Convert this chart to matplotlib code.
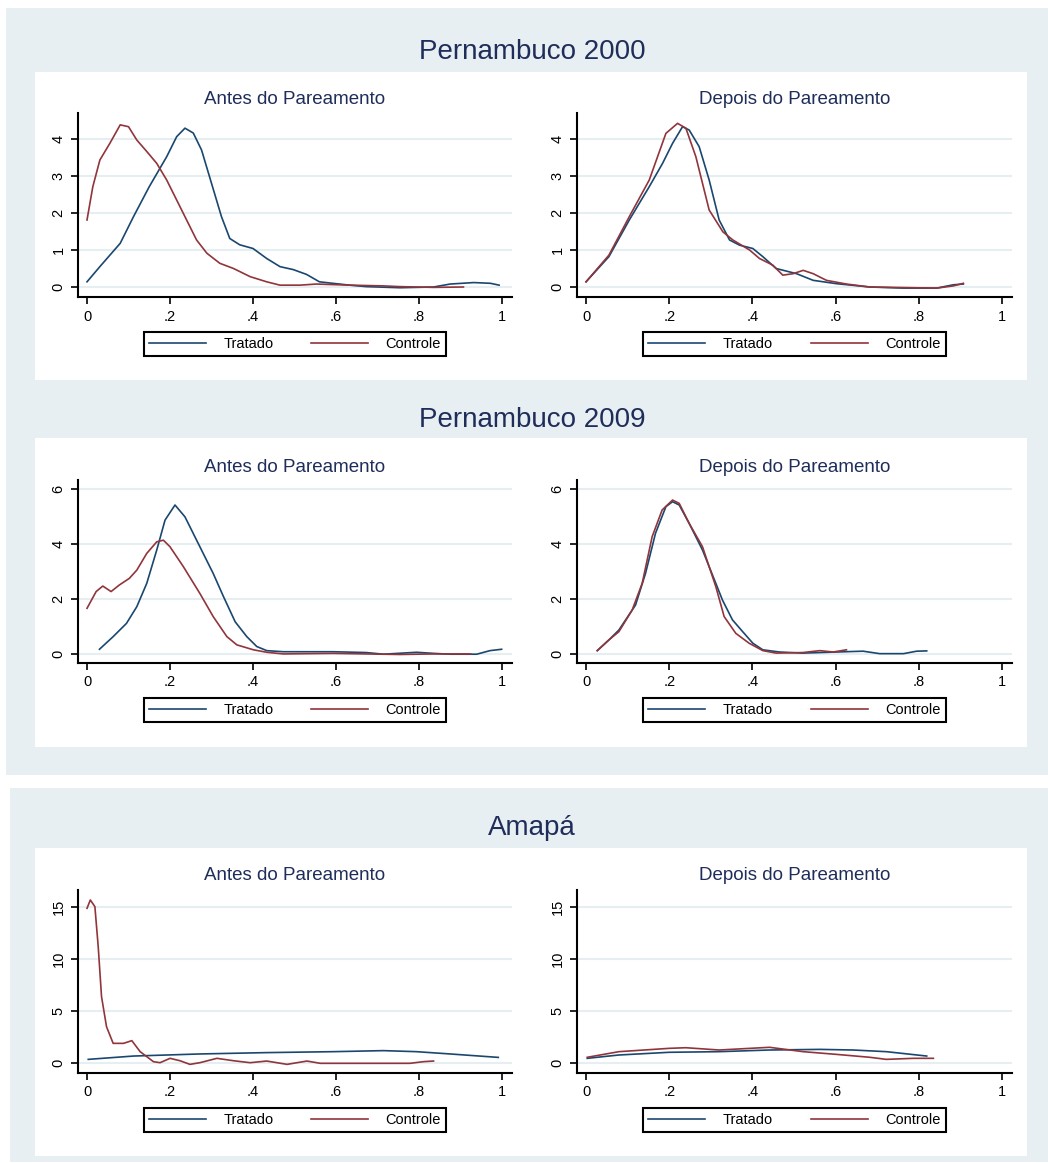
import matplotlib
matplotlib.use("Agg")
import matplotlib.pyplot as plt
from matplotlib.patches import Rectangle
from matplotlib.lines import Line2D

# ---- data (kernel densities) ----
# Pernambuco 2000, antes
pe00_antes_trat_x = [0, 0.031, 0.059, 0.08, 0.112, 0.15, 0.192, 0.216, 0.236, 0.256, 0.276, 0.3, 0.324,
                     0.344, 0.368, 0.4, 0.433, 0.465, 0.497, 0.529, 0.56, 0.592, 0.633, 0.673, 0.754,
                     0.835, 0.875, 0.932, 0.972, 0.993]
pe00_antes_trat_y = [0.14, 0.55, 0.91, 1.18, 1.9, 2.71, 3.52, 4.06, 4.29, 4.16, 3.7, 2.8, 1.9,
                     1.31, 1.14, 1.04, 0.77, 0.55, 0.47, 0.34, 0.14, 0.1, 0.05, 0.01, -0.02,
                     0.0, 0.08, 0.12, 0.1, 0.05]
pe00_antes_ctrl_x = [0, 0.014, 0.031, 0.055, 0.08, 0.1, 0.12, 0.144, 0.168, 0.192, 0.216, 0.24, 0.264,
                     0.289, 0.32, 0.353, 0.393, 0.433, 0.465, 0.513, 0.553, 0.633, 0.714, 0.754, 0.835, 0.907]
pe00_antes_ctrl_y = [1.81, 2.71, 3.43, 3.88, 4.38, 4.33, 3.97, 3.66, 3.34, 2.89, 2.35, 1.81, 1.27,
                     0.91, 0.64, 0.5, 0.28, 0.14, 0.05, 0.05, 0.08, 0.05, 0.03, 0.01, -0.01, 0.0]

# Pernambuco 2000, depois
pe00_dep_trat_x = [0, 0.055, 0.104, 0.152, 0.184, 0.208, 0.232, 0.248, 0.272, 0.296, 0.32, 0.345,
                   0.369, 0.401, 0.425, 0.457, 0.506, 0.546, 0.602, 0.682, 0.763, 0.843, 0.883, 0.907]
pe00_dep_trat_y = [0.14, 0.82, 1.81, 2.71, 3.34, 3.88, 4.33, 4.24, 3.79, 2.89, 1.81, 1.27,
                   1.13, 1.04, 0.82, 0.5, 0.36, 0.18, 0.09, 0.0, -0.03, -0.03, 0.06, 0.08]
pe00_dep_ctrl_x = [0, 0.055, 0.104, 0.152, 0.192, 0.22, 0.24, 0.264, 0.296, 0.329, 0.353, 0.393,
                   0.417, 0.449, 0.473, 0.498, 0.522, 0.546, 0.578, 0.626, 0.682, 0.843, 0.883, 0.907]
pe00_dep_ctrl_y = [0.14, 0.86, 1.9, 2.89, 4.15, 4.42, 4.29, 3.52, 2.08, 1.49, 1.27, 1.0,
                   0.77, 0.59, 0.32, 0.36, 0.45, 0.36, 0.18, 0.08, 0.0, -0.03, 0.03, 0.1]

# Pernambuco 2009, antes
pe09_antes_trat_x = [0.03, 0.063, 0.095, 0.12, 0.144, 0.168, 0.188, 0.212, 0.236, 0.272, 0.304, 0.329,
                     0.357, 0.385, 0.409, 0.433, 0.473, 0.593, 0.673, 0.714, 0.794, 0.835, 0.875,
                     0.939, 0.971, 0.999]
pe09_antes_trat_y = [0.17, 0.63, 1.11, 1.72, 2.57, 3.78, 4.87, 5.42, 4.99, 3.9, 2.93, 2.08,
                     1.17, 0.63, 0.27, 0.12, 0.08, 0.08, 0.05, -0.01, 0.06, 0.02, -0.01,
                     -0.01, 0.12, 0.17]
pe09_antes_ctrl_x = [0, 0.022, 0.038, 0.058, 0.078, 0.102, 0.12, 0.144, 0.168, 0.184, 0.2, 0.232,
                     0.272, 0.304, 0.337, 0.361, 0.401, 0.433, 0.473, 0.593, 0.673, 0.754, 0.835, 0.924]
pe09_antes_ctrl_y = [1.66, 2.27, 2.47, 2.27, 2.51, 2.75, 3.05, 3.66, 4.08, 4.14, 3.9, 3.18,
                     2.2, 1.36, 0.63, 0.33, 0.15, 0.06, 0.0, 0.02, 0.0, -0.02, 0.0, 0.0]

# Pernambuco 2009, depois
pe09_dep_trat_x = [0.027, 0.055, 0.079, 0.119, 0.143, 0.167, 0.192, 0.208, 0.224, 0.248, 0.28, 0.312,
                   0.328, 0.352, 0.376, 0.401, 0.425, 0.465, 0.521, 0.602, 0.666, 0.706, 0.763,
                   0.795, 0.819]
pe09_dep_trat_y = [0.12, 0.51, 0.87, 1.78, 2.93, 4.39, 5.36, 5.54, 5.42, 4.75, 3.78, 2.57,
                   1.96, 1.24, 0.82, 0.39, 0.15, 0.07, 0.03, 0.07, 0.1, 0.01, 0.01,
                   0.1, 0.11]
pe09_dep_ctrl_x = [0.027, 0.055, 0.079, 0.111, 0.135, 0.159, 0.183, 0.208, 0.224, 0.248, 0.28, 0.312,
                   0.332, 0.36, 0.392, 0.425, 0.457, 0.521, 0.562, 0.594, 0.626]
pe09_dep_ctrl_y = [0.12, 0.51, 0.81, 1.6, 2.57, 4.27, 5.24, 5.6, 5.48, 4.75, 3.9, 2.45,
                   1.36, 0.75, 0.39, 0.12, 0.03, 0.05, 0.12, 0.07, 0.15]

# Amapa, antes
ap_antes_trat_x = [0.003, 0.112, 0.272, 0.433, 0.593, 0.714, 0.794, 0.875, 0.991]
ap_antes_trat_y = [0.35, 0.67, 0.87, 1.0, 1.09, 1.19, 1.09, 0.87, 0.54]
ap_antes_ctrl_x = [0, 0.008, 0.019, 0.027, 0.035, 0.047, 0.063, 0.088, 0.108, 0.128, 0.16, 0.176,
                   0.2, 0.224, 0.248, 0.272, 0.313, 0.353, 0.393, 0.433, 0.482, 0.53, 0.562,
                   0.633, 0.778, 0.811, 0.835]
ap_antes_ctrl_y = [14.87, 15.67, 15.03, 11.19, 6.38, 3.49, 1.89, 1.89, 2.15, 1.09, 0.13, 0.03,
                   0.45, 0.22, -0.13, 0.03, 0.45, 0.22, 0.03, 0.19, -0.13, 0.19, -0.03,
                   -0.03, -0.03, 0.13, 0.19]

# Amapa, depois
ap_dep_trat_x = [0.003, 0.079, 0.2, 0.32, 0.441, 0.562, 0.642, 0.722, 0.819]
ap_dep_trat_y = [0.45, 0.77, 1.03, 1.09, 1.25, 1.31, 1.25, 1.09, 0.67]
ap_dep_ctrl_x = [0.003, 0.079, 0.2, 0.24, 0.32, 0.441, 0.522, 0.602, 0.682, 0.722, 0.787, 0.835]
ap_dep_ctrl_y = [0.55, 1.09, 1.41, 1.47, 1.25, 1.51, 1.09, 0.83, 0.55, 0.35, 0.45, 0.45]

group_titles = ["Pernambuco 2000", "Pernambuco 2009", "Amapá"]
panel_titles = ["Antes do Pareamento", "Depois do Pareamento"]
legend_labels = ["Tratado", "Controle"]
xtick_vals = [0, 0.2, 0.4, 0.6, 0.8, 1]
xtick_labels = ["0", ".2", ".4", ".6", ".8", "1"]
ytick_sets = [[0, 1, 2, 3, 4], [0, 2, 4, 6], [0, 5, 10, 15]]
ylims = [(-0.27, 4.70), (-0.33, 6.33), (-0.96, 16.63)]

series = [
    [(pe00_antes_trat_x, pe00_antes_trat_y, pe00_antes_ctrl_x, pe00_antes_ctrl_y),
     (pe00_dep_trat_x, pe00_dep_trat_y, pe00_dep_ctrl_x, pe00_dep_ctrl_y)],
    [(pe09_antes_trat_x, pe09_antes_trat_y, pe09_antes_ctrl_x, pe09_antes_ctrl_y),
     (pe09_dep_trat_x, pe09_dep_trat_y, pe09_dep_ctrl_x, pe09_dep_ctrl_y)],
    [(ap_antes_trat_x, ap_antes_trat_y, ap_antes_ctrl_x, ap_antes_ctrl_y),
     (ap_dep_trat_x, ap_dep_trat_y, ap_dep_ctrl_x, ap_dep_ctrl_y)],
]

# ---- styling ----
W, H = 1048, 1163
BG = "#e8eff2"
GRID = "#e6eef1"
NAVY = "#1f2d5a"
BLUE = "#1a476f"
RED = "#90353b"
TXT = ["Liberation Sans", "DejaVu Sans"]

fig = plt.figure(figsize=(W / 100, H / 100), dpi=100)
fig.patch.set_facecolor("white")


def box(x0, y0, x1, y1, color):
    # pixel box (top-left origin) -> figure rectangle
    fig.patches.append(Rectangle((x0 / W, 1 - y1 / H), (x1 - x0) / W, (y1 - y0) / H,
                                 transform=fig.transFigure, facecolor=color,
                                 edgecolor="none", zorder=-10))


# outer graph regions
box(6, 8, 1048, 775, BG)
box(10, 788, 1048, 1162, BG)
# white plot regions
row_boxes = [(35, 72, 1027, 380), (35, 438, 1027, 747), (35, 848, 1027, 1156)]
for b in row_boxes:
    box(*b, "white")

group_title_y = [52, 420, 828]
sub_title_y = [100, 467, 876]
axis_top = [113, 480, 890]
axis_bot = [297, 663, 1073]
col_left = [78, 577]
col_right = [512, 1012]

for r in range(3):
    fig.text(532 / W, 1 - group_title_y[r] / H, group_titles[r], ha="center", va="center",
             fontsize=20, color=NAVY, family=TXT)
    for c in range(2):
        x0, x1 = col_left[c], col_right[c]
        ax = fig.add_axes([x0 / W, 1 - axis_bot[r] / H, (x1 - x0) / W, (axis_bot[r] - axis_top[r]) / H])
        ax.set_facecolor("white")
        tx, ty, cx, cy = series[r][c]
        ax.plot(tx, ty, color=BLUE, lw=1.2, solid_joinstyle="round")
        ax.plot(cx, cy, color=RED, lw=1.2, solid_joinstyle="round")
        ax.set_xlim(-0.0217, 1.024)
        ax.set_ylim(*ylims[r])
        ax.set_xticks(xtick_vals)
        ax.set_xticklabels(xtick_labels)
        ax.set_yticks(ytick_sets[r])
        ax.set_yticklabels([str(v) for v in ytick_sets[r]], rotation=90, va="center")
        for lab in ax.get_xticklabels() + ax.get_yticklabels():
            lab.set_family(TXT)
            lab.set_fontsize(10.5)
        ax.tick_params(direction="out", length=5, width=1.2, color="black", pad=4)
        ax.yaxis.grid(True, color=GRID, lw=1.5)
        ax.set_axisbelow(True)
        for s in ["top", "right"]:
            ax.spines[s].set_visible(False)
        for s in ["left", "bottom"]:
            ax.spines[s].set_linewidth(1.5)
            ax.spines[s].set_color("black")
        fig.text((x0 + x1) / 2 / W, 1 - sub_title_y[r] / H, panel_titles[c], ha="center", va="center",
                 fontsize=13.5, color=NAVY, family=TXT)
        handles = [Line2D([], [], color=BLUE, lw=1.2), Line2D([], [], color=RED, lw=1.2)]
        leg = ax.legend(handles, legend_labels, loc="upper center", ncol=2,
                        bbox_to_anchor=(0.5, -35 / (axis_bot[r] - axis_top[r])),
                        frameon=True, fancybox=False, framealpha=1, edgecolor="black",
                        handlelength=3.9, handletextpad=1.2, columnspacing=2.6,
                        borderpad=0.35, borderaxespad=0, prop={"family": TXT, "size": 10.5})
        leg.get_frame().set_linewidth(1.5)

fig.savefig("out.png", dpi=100, facecolor="white")
